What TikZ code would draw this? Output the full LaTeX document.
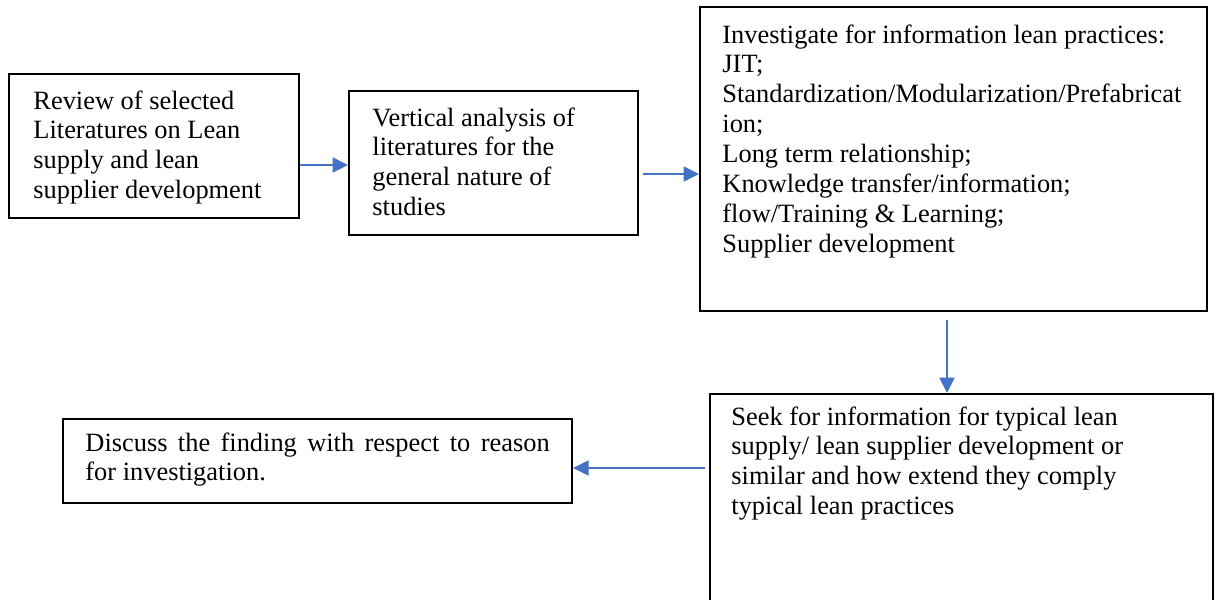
\documentclass[tikz,border=0pt]{standalone}
\usepackage{fontspec}
\setmainfont{Liberation Serif}
\usepackage{tikz}
\usetikzlibrary{arrows.meta}
\definecolor{arrowblue}{HTML}{4472C4}

\begin{document}
\begin{tikzpicture}[x=0.4545pt,y=-0.4545pt,
  boxstyle/.style={draw,line width=0.9pt,inner sep=0pt,anchor=north west},
  txtstyle/.style={align=left,inner sep=0pt,anchor=north west,font=\fontsize{12}{13.6}\selectfont},
  flow/.style={draw=arrowblue,line width=0.85pt,-{Triangle[length=7pt,width=6.8pt]}}]
\useasboundingbox (0,0) rectangle (1218,599);
\node[boxstyle,minimum width=131.8pt,minimum height=65.5pt] (review) at (8,73) {};
\node[boxstyle,minimum width=131.4pt,minimum height=65.5pt] (vertical) at (348,90) {};
\node[boxstyle,minimum width=230.4pt,minimum height=138.2pt] (investigate) at (699,6) {};
\node[boxstyle,minimum width=228.6pt,minimum height=104.5pt] (seek) at (709,393) {};
\node[boxstyle,minimum width=231.4pt,minimum height=38.2pt] (discuss) at (62,418) {};
\node[txtstyle] (reviewtxt) at (33,90) {Review of selected\\Literatures on Lean\\supply and lean\\supplier development};
\node[txtstyle] (verticaltxt) at (372,107) {Vertical analysis of\\literatures for the\\general nature of\\studies};
\node[txtstyle] (investigatetxt) at (722,24) {Investigate for information lean practices:\\JIT;\\Standardization/Modularization/Prefabricat\\ion;\\Long term relationship;\\Knowledge transfer/information;\\flow/Training \& Learning;\\Supplier development};
\node[txtstyle] (seektxt) at (731,406) {Seek for information for typical lean\\supply/ lean supplier development or\\similar and how extend they comply\\typical lean practices};
\node[txtstyle,align=justify,text width=211pt] (discusstxt) at (85,432) {Discuss the finding with respect to reason\linebreak for investigation.};
\draw[flow] (review.east |- 0,165) -- (vertical.west |- 0,165);
\draw[flow,shorten <=2pt] (vertical.east |- 0,174) -- (investigate.west |- 0,174);
\draw[flow,shorten <=3.6pt] (investigate.south -| 947,0) -- (seek.north -| 947,0);
\draw[flow,shorten <=2pt] (seek.west |- 0,468) -- (discuss.east |- 0,468);
\end{tikzpicture}
\end{document}
